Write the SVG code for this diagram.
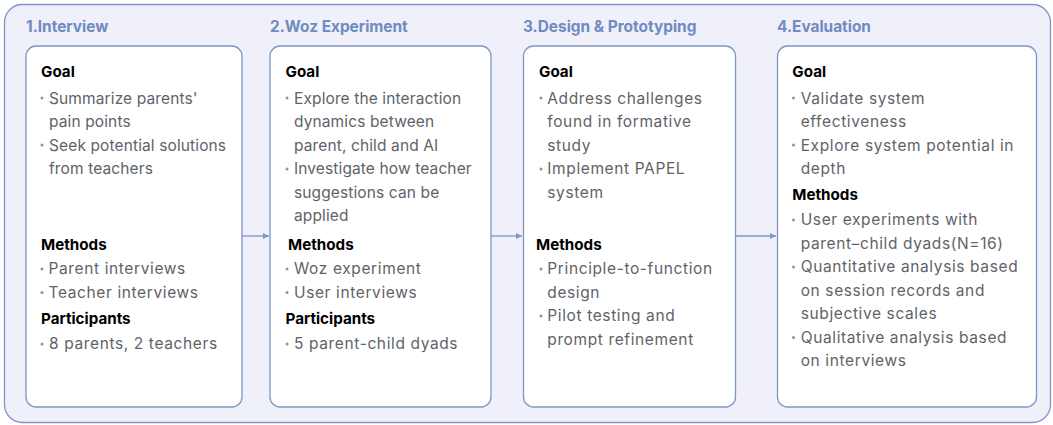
<svg xmlns="http://www.w3.org/2000/svg" width="1053" height="425" viewBox="0 0 1053 425">
<defs>
<style>
.outer{fill:#EFF0FA;stroke:#7E95C5;stroke-width:1.3}
.card{fill:#FFFFFF;stroke:#7E95C5;stroke-width:1.3}
.title{font-family:Inter,"Liberation Sans",sans-serif;font-weight:700;font-size:15.4px;fill:#6F8BC0}
.head{font-family:Inter,"Liberation Sans",sans-serif;font-weight:700;font-size:15.2px;fill:#000000}
.body{font-family:Inter,"Liberation Sans",sans-serif;font-size:15.5px;fill:#5F6368;letter-spacing:0.62px}
.tight{letter-spacing:0.12px}
.dot{fill:#7E95C5}
.conn{stroke:#7E95C5;stroke-width:1.3;fill:none}
</style>
<marker id="ah" viewBox="0 0 6 6" refX="6" refY="3" markerWidth="6" markerHeight="6" markerUnits="userSpaceOnUse" orient="auto">
<path d="M0,0 L6,3 L0,6 Z" fill="#7E95C5"/>
</marker>
</defs>
<rect class="outer" x="4.5" y="4.5" width="1046" height="418" rx="18"/>
<text class="title" x="26" y="32">1.Interview</text>
<text class="title" x="270" y="32">2.Woz Experiment</text>
<text class="title" x="523" y="32">3.Design &amp; Prototyping</text>
<text class="title" x="777" y="32">4.Evaluation</text>
<g id="connectors">
<line class="conn" x1="242" y1="236" x2="269" y2="236" marker-end="url(#ah)"/>
<line class="conn" x1="491" y1="236" x2="522" y2="236" marker-end="url(#ah)"/>
<line class="conn" x1="736" y1="236" x2="776" y2="236" marker-end="url(#ah)"/>
</g>
<g id="node1">
<rect class="card" x="26" y="46" width="216" height="361" rx="10"/>
<text class="head" x="41" y="77">Goal</text>
<circle class="dot" cx="42" cy="98" r="1.5"/>
<text class="body tight" x="49" y="103.5">Summarize parents'</text>
<text class="body tight" x="49" y="127">pain points</text>
<circle class="dot" cx="42" cy="145" r="1.5"/>
<text class="body tight" x="49" y="150.7">Seek potential solutions</text>
<text class="body tight" x="49" y="174">from teachers</text>
<text class="head" x="41" y="249.5">Methods</text>
<circle class="dot" cx="42" cy="269" r="1.5"/>
<text class="body" x="48.5" y="274">Parent interviews</text>
<circle class="dot" cx="42" cy="292.5" r="1.5"/>
<text class="body" x="48.5" y="297.7">Teacher interviews</text>
<text class="head" x="41" y="324">Participants</text>
<circle class="dot" cx="42" cy="344" r="1.5"/>
<text class="body" x="49" y="349.3">8 parents, 2 teachers</text>
</g>
<g id="node2">
<rect class="card" x="270" y="46" width="221" height="361" rx="10"/>
<text class="head" x="285.5" y="77">Goal</text>
<circle class="dot" cx="287" cy="98" r="1.5"/>
<text class="body tight" x="294" y="103.5">Explore the interaction</text>
<text class="body tight" x="294" y="127">dynamics between</text>
<text class="body tight" x="294" y="150.7">parent, child and AI</text>
<circle class="dot" cx="287" cy="169" r="1.5"/>
<text class="body tight" x="294" y="174">Investigate how teacher</text>
<text class="body tight" x="294" y="197.7">suggestions can be</text>
<text class="body tight" x="294" y="221">applied</text>
<text class="head" x="288" y="250">Methods</text>
<circle class="dot" cx="287" cy="269" r="1.5"/>
<text class="body" x="294" y="274">Woz experiment</text>
<circle class="dot" cx="287" cy="292.5" r="1.5"/>
<text class="body" x="294" y="297.7">User interviews</text>
<text class="head" x="285.5" y="324.3">Participants</text>
<circle class="dot" cx="287" cy="344" r="1.5"/>
<text class="body" x="294" y="349.3">5 parent-child dyads</text>
</g>
<g id="node3">
<rect class="card" x="523.5" y="46" width="212" height="361" rx="10"/>
<text class="head" x="539" y="77">Goal</text>
<circle class="dot" cx="541" cy="98" r="1.5"/>
<text class="body" x="547.3" y="103.5">Address challenges</text>
<text class="body" x="547.3" y="127">found in formative</text>
<text class="body" x="547.3" y="150.7">study</text>
<circle class="dot" cx="541" cy="169" r="1.5"/>
<text class="body" x="547.3" y="174">Implement PAPEL</text>
<text class="body" x="547.3" y="197.7">system</text>
<text class="head" x="536" y="250">Methods</text>
<circle class="dot" cx="541" cy="269" r="1.5"/>
<text class="body" x="547.3" y="274">Principle-to-function</text>
<text class="body" x="547.3" y="297.7">design</text>
<circle class="dot" cx="541" cy="316" r="1.5"/>
<text class="body" x="547.3" y="321.3">Pilot testing and</text>
<text class="body" x="547.3" y="345">prompt refinement</text>
</g>
<g id="node4">
<rect class="card" x="777.5" y="46" width="259" height="361" rx="10"/>
<text class="head" x="792.3" y="77">Goal</text>
<circle class="dot" cx="793.5" cy="98" r="1.5"/>
<text class="body" x="800.7" y="103.5">Validate system</text>
<text class="body" x="800.7" y="127">effectiveness</text>
<circle class="dot" cx="793.5" cy="145" r="1.5"/>
<text class="body" x="800.7" y="150.7">Explore system potential in</text>
<text class="body" x="800.7" y="174">depth</text>
<text class="head" x="792.3" y="199.5">Methods</text>
<circle class="dot" cx="793.5" cy="220" r="1.5"/>
<text class="body" x="800.7" y="225.3">User experiments with</text>
<text class="body" x="800.7" y="248.7">parent–child dyads(N=16)</text>
<circle class="dot" cx="793.5" cy="267" r="1.5"/>
<text class="body" x="800.7" y="272.3">Quantitative analysis based</text>
<text class="body" x="800.7" y="295.7">on session records and</text>
<text class="body" x="800.7" y="319">subjective scales</text>
<circle class="dot" cx="793.5" cy="337.5" r="1.5"/>
<text class="body" x="800.7" y="342.7">Qualitative analysis based</text>
<text class="body" x="800.7" y="366">on interviews</text>
</g>
</svg>
